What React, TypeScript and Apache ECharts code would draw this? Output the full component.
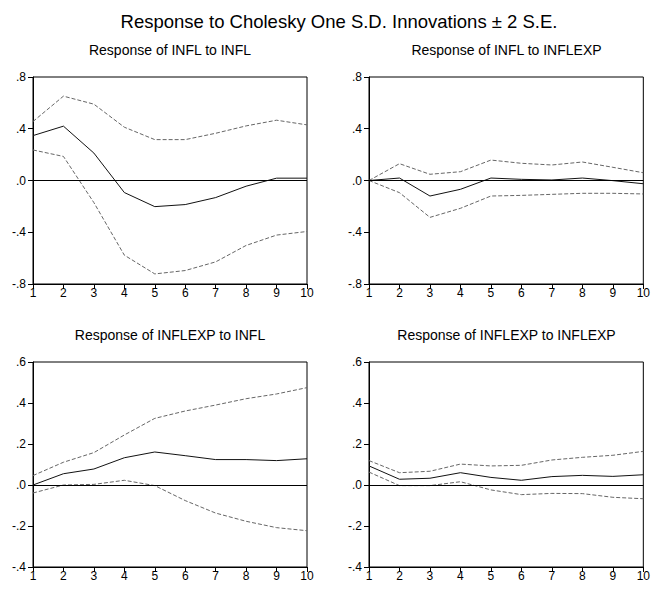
import React, { useEffect, useRef } from "react";
import * as echarts from "echarts";

const periods = [1, 2, 3, 4, 5, 6, 7, 8, 9, 10];

const mainTitle = "Response to Cholesky One S.D. Innovations \u00b1 2 S.E.";
const panelTitles = [
  "Response of INFL to INFL",
  "Response of INFL to INFLEXP",
  "Response of INFLEXP to INFL",
  "Response of INFLEXP to INFLEXP",
];

// Panel 1: INFL to INFL
const p1Resp = [0.347, 0.42, 0.212, -0.093, -0.202, -0.186, -0.132, -0.044, 0.018, 0.018];
const p1Up = [0.456, 0.652, 0.59, 0.412, 0.316, 0.316, 0.365, 0.422, 0.466, 0.43];
const p1Lo = [0.236, 0.186, -0.171, -0.577, -0.722, -0.696, -0.629, -0.502, -0.422, -0.394];

// Panel 2: INFL to INFLEXP
const p2Resp = [0, 0.019, -0.12, -0.068, 0.019, 0.009, 0.004, 0.019, -0.001, -0.025];
const p2Up = [0, 0.13, 0.048, 0.068, 0.158, 0.133, 0.12, 0.143, 0.102, 0.06];
const p2Lo = [0, -0.094, -0.285, -0.215, -0.12, -0.115, -0.107, -0.099, -0.099, -0.104];

// Panel 3: INFLEXP to INFL
const p3Resp = [0, 0.055, 0.078, 0.133, 0.161, 0.143, 0.124, 0.124, 0.119, 0.128];
const p3Up = [0.046, 0.111, 0.158, 0.244, 0.325, 0.361, 0.39, 0.421, 0.444, 0.475];
const p3Lo = [-0.039, 0, 0.003, 0.023, -0.003, -0.076, -0.137, -0.177, -0.208, -0.223];

// Panel 4: INFLEXP to INFLEXP
const p4Resp = [0.093, 0.028, 0.033, 0.06, 0.037, 0.023, 0.041, 0.047, 0.042, 0.05];
const p4Up = [0.119, 0.06, 0.067, 0.102, 0.093, 0.096, 0.122, 0.135, 0.145, 0.164];
const p4Lo = [0.063, -0.003, -0.003, 0.016, -0.024, -0.047, -0.041, -0.042, -0.06, -0.067];

const topTicks = { min: -0.8, max: 0.8, interval: 0.4 };
const bottomTicks = { min: -0.4, max: 0.6, interval: 0.2 };

const panels = [
  { resp: p1Resp, up: p1Up, lo: p1Lo, y: topTicks },
  { resp: p2Resp, up: p2Up, lo: p2Lo, y: topTicks },
  { resp: p3Resp, up: p3Up, lo: p3Lo, y: bottomTicks },
  { resp: p4Resp, up: p4Up, lo: p4Lo, y: bottomTicks },
];

const fmt = (v: number) => {
  const s = v.toFixed(1);
  return s.replace("0.", ".");
};

export default function App() {
  const ref = useRef<HTMLDivElement>(null);
  useEffect(() => {
    if (!ref.current) return;
    const chart = echarts.init(ref.current, null, { renderer: "svg" });
    const grids = [
      { left: 33, top: 77, width: 274, height: 207 },
      { left: 369, top: 77, width: 275, height: 207 },
      { left: 33, top: 362, width: 274, height: 205 },
      { left: 369, top: 362, width: 275, height: 205 },
    ];
    const font = "'Liberation Sans', Arial, sans-serif";
    const pairs = (arr: number[]) => arr.map((v, i) => [periods[i], v]);
    const series: any[] = [];
    panels.forEach((p, k) => {
      series.push({
        type: "line",
        xAxisIndex: k,
        yAxisIndex: k,
        data: pairs(p.resp),
        symbol: "none",
        lineStyle: { color: "#111", width: 1 },
        markLine: {
          silent: true,
          symbol: "none",
          label: { show: false },
          lineStyle: { color: "#000", width: 1, type: "solid" },
          data: [{ yAxis: 0 }],
        },
        z: 3,
      });
      series.push({
        type: "line",
        xAxisIndex: k,
        yAxisIndex: k,
        data: pairs(p.up),
        symbol: "none",
        lineStyle: { color: "#666", width: 1, type: [4, 2] },
      });
      series.push({
        type: "line",
        xAxisIndex: k,
        yAxisIndex: k,
        data: pairs(p.lo),
        symbol: "none",
        lineStyle: { color: "#666", width: 1, type: [4, 2] },
      });
    });
    const option: any = {
      animation: false,
      backgroundColor: "#fff",
      grid: grids.map((g) => ({
        ...g,
        show: true,
        borderColor: "#000",
        borderWidth: 1,
        backgroundColor: "transparent",
      })),
      xAxis: grids.map((_, k) => ({
        type: "value",
        gridIndex: k,
        min: 1,
        max: 10,
        interval: 1,
        axisLine: { show: true, onZero: false, lineStyle: { color: "#000", width: 1 } },
        axisTick: { show: true, length: 5, lineStyle: { color: "#000" } },
        axisLabel: { color: "#000", fontSize: 12, fontFamily: font, margin: 3 },
        splitLine: { show: false },
      })),
      yAxis: panels.map((p, k) => ({
        type: "value",
        gridIndex: k,
        min: p.y.min,
        max: p.y.max,
        interval: p.y.interval,
        axisLine: { show: true, lineStyle: { color: "#000", width: 1 } },
        axisTick: { show: true, length: 5, lineStyle: { color: "#000" } },
        axisLabel: {
          color: "#000",
          fontSize: 12,
          fontFamily: font,
          margin: 7,
          formatter: fmt,
        },
        splitLine: { show: false },
      })),
      graphic: [
        {
          type: "text",
          x: 339,
          y: 21,
          style: {
            text: mainTitle,
            fontSize: 18.5,
            fontFamily: font,
            fill: "#000",
            textAlign: "center",
            textVerticalAlign: "middle",
          },
        },
        ...panelTitles.map((t, k) => ({
          type: "text",
          x: grids[k].left + grids[k].width / 2,
          y: k < 2 ? 50 : 335,
          style: {
            text: t,
            fontSize: 14,
            fontFamily: font,
            fill: "#000",
            textAlign: "center",
            textVerticalAlign: "middle",
          },
        })),
      ],
      series,
    };
    chart.setOption(option);
    return () => chart.dispose();
  }, []);
  return (
    <div
      ref={ref}
      style={{ position: "fixed", left: 0, top: 0, width: 653, height: 592, background: "#fff" }}
    />
  );
}
